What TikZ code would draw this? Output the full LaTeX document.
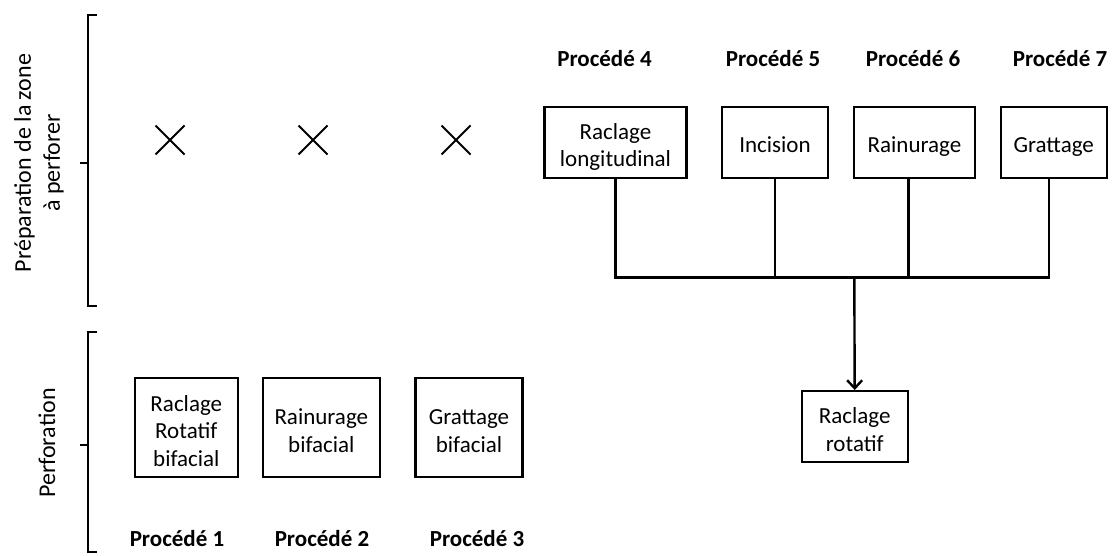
\documentclass[tikz,border=0pt]{standalone}
\usepackage{fontspec}
\setmainfont{Carlito}
\usetikzlibrary{arrows.meta,shapes.misc,positioning}
\colorlet{penColor}{black}
\tikzset{
  etape/.style={draw=penColor, line width=2.4pt, align=center, inner sep=0pt,
    font=\fontsize{23}{27.5}\selectfont, text height=23pt, text depth=2pt},
  deuxlignes/.style={text height=20pt, text depth=26pt},
  troislignes/.style={text height=20pt, text depth=53pt},
  procede/.style={anchor=base, font=\fontsize{23}{27}\selectfont\bfseries},
  phase/.style={rotate=90, align=center, font=\fontsize{24}{29}\selectfont},
  croix/.style={cross out, draw=penColor, line width=2pt, minimum size=27pt, inner sep=0pt},
  crochet/.style={draw=penColor, line width=1.5pt},
  lien/.style={draw=penColor, line width=2.4pt},
}

\begin{document}
\begin{tikzpicture}[x=1pt,y=-1pt]
  \useasboundingbox (0,0) rectangle (1113,556);

  % crochets des deux phases
  \coordinate (prepHaut) at (97,15);
  \coordinate (prepBas) at (97,306);
  \coordinate (prepMilieu) at (80,163);
  \draw[crochet] (prepHaut) -| (88,306) -- (prepBas);
  \draw[crochet] (prepMilieu) -- (88,163);
  \coordinate (perfHaut) at (97,332);
  \coordinate (perfBas) at (97,552);
  \coordinate (perfMilieu) at (80,445);
  \draw[crochet] (perfHaut) -| (88,552) -- (perfBas);
  \draw[crochet] (perfMilieu) -- (88,445);
  \node[phase] (prep) at (39,163) {Préparation de la zone\\à perforer};
  \node[phase] (perf) at (47,443) {Perforation};

  % procédés 1 a 3 : pas de préparation
  \node[croix] (x1) at (170,140) {};
  \node[croix] (x2) at (313,140) {};
  \node[croix] (x3) at (456,140) {};
  \node[etape, troislignes, minimum width=103pt, text width=97pt, minimum height=99pt] (p1) at (186.3,427.5) {Raclage\\Rotatif\\bifacial};
  \node[etape, deuxlignes, minimum width=117pt, text width=111pt, minimum height=99pt] (p2) at (321.3,427.5) {Rainurage\\bifacial};
  \node[etape, deuxlignes, minimum width=107pt, text width=101pt, minimum height=99pt] (p3) at (469,427.5) {Grattage\\bifacial};
  \node[procede] (proc1) at (177,546) {Procédé 1};
  \node[procede] (proc2) at (322,546) {Procédé 2};
  \node[procede] (proc3) at (477,546) {Procédé 3};

  % procédés 4 a 7
  \node[procede] (proc4) at (604.5,67) {Procédé 4};
  \node[procede] (proc5) at (773,67) {Procédé 5};
  \node[procede] (proc6) at (913,67) {Procédé 6};
  \node[procede] (proc7) at (1060,67) {Procédé 7};
  \node[etape, deuxlignes, minimum width=142pt, text width=136pt, minimum height=70.5pt] (r4) at (615.5,142.5) {Raclage\\longitudinal};
  \node[etape, minimum width=105.5pt, text width=100pt, minimum height=70.5pt] (r5) at (775,142.5) {Incision};
  \node[etape, minimum width=121pt, text width=115pt, minimum height=70.5pt] (r6) at (914.5,142.5) {Rainurage};
  \node[etape, minimum width=106pt, text width=100pt, minimum height=70.5pt] (r7) at (1053.7,142.5) {Grattage};
  \node[etape, deuxlignes, minimum width=106pt, text width=100pt, minimum height=71pt] (rot) at (854.7,426.7) {Raclage\\rotatif};

  \coordinate (jonction) at (854.3,277.3);
  \draw[lien] (r4.south) |- ([xshift=-5pt]r7.south |- jonction) -- ([xshift=-5pt]r7.south);
  \draw[lien] (r5.south) -- (r5.south |- jonction);
  \draw[lien] ([xshift=-6pt]r6.south) -- ([xshift=-6pt]r6.south |- jonction);
  \draw[lien, -{Straight Barb[length=8pt,width=15pt]}] (jonction) -- (rot.north);
\end{tikzpicture}
\end{document}
